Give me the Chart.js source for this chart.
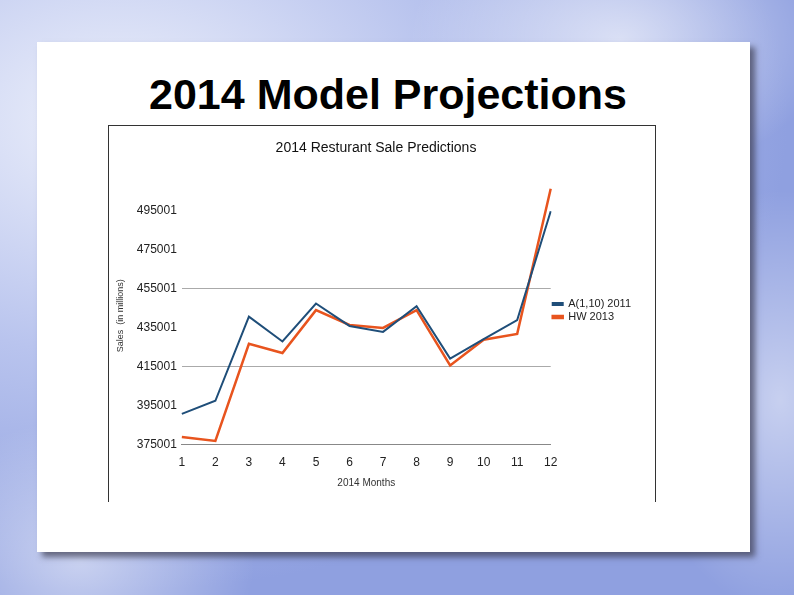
<!DOCTYPE html>
<html><head><meta charset="utf-8">
<script src="https://cdn.jsdelivr.net/npm/chart.js@4"></script>
<style>
html,body{margin:0;padding:0;}
body{width:794px;height:595px;position:relative;overflow:hidden;
background:radial-gradient(ellipse at 15% 20%,#eef1fb 0%,#b9c4ee 35%,#8fa0e0 70%),#9aa8e4;}
#waves{position:absolute;inset:0;background:
radial-gradient(ellipse 300px 200px at 620px 40px,rgba(255,255,255,.6),transparent 70%),
radial-gradient(ellipse 250px 200px at 80px 560px,rgba(255,255,255,.5),transparent 70%),
radial-gradient(ellipse 200px 300px at 780px 400px,rgba(255,255,255,.5),transparent 70%);}
#panel{position:absolute;left:37px;top:42px;width:713px;height:510px;background:#fff;
box-shadow:5px 5px 6px rgba(60,60,80,.7);}
#title{position:absolute;left:0;width:776px;top:70px;text-align:center;
font-family:"Liberation Sans",Arial,sans-serif;font-weight:bold;font-size:43px;color:#000;}
#box{position:absolute;left:108px;top:125px;width:548px;height:377px;background:#fff;border:1px solid #333;border-bottom:none;box-sizing:border-box;}
</style></head><body>
<div id="waves"></div><div id="panel"></div>
<div id="title">2014 Model Projections</div>
<div id="box"><canvas id="c" width="546" height="377"></canvas></div>
<script>
const months=["1","2","3","4","5","6","7","8","9","10","11","12"];
const seriesA=[390700,397450,440500,427800,447250,435750,432700,445900,419050,429000,438800,494500];
const seriesHW=[378900,376850,426650,421900,443850,436250,434750,443850,415500,428700,431700,505970];
const yTicks=[375001,395001,415001,435001,455001,475001,495001];
const F='Liberation Sans';
new Chart(document.getElementById('c'),{type:'line',
data:{labels:months,datasets:[
{label:'A(1,10) 2011',data:seriesA,borderColor:'#1f4e79',borderWidth:2,pointRadius:0,tension:0},
{label:'HW 2013',data:seriesHW,borderColor:'#e8541e',borderWidth:2.5,pointRadius:0,tension:0}]},
options:{responsive:false,animation:false,
layout:{padding:{left:2,right:14,top:2,bottom:10}},
plugins:{title:{display:true,text:'2014 Resturant Sale Predictions',color:'#111',font:{family:F,size:14,weight:'normal'},padding:{top:12,bottom:30}},
legend:{position:'right',labels:{boxWidth:10,boxHeight:2,color:'#222',font:{family:F,size:11},padding:2}},tooltip:{enabled:false}},
scales:{
x:{offset:false,grid:{display:false},border:{color:'#888'},ticks:{color:'#222',font:{family:F,size:12}},
title:{display:true,text:'2014 Months',color:'#333',font:{family:F,size:10}}},
y:{min:375001,max:507000,afterBuildTicks:s=>{s.ticks=yTicks.map(v=>({value:v}));},
grid:{color:c=>(c.tick&&(c.tick.value===415001||c.tick.value===455001||c.tick.value===375001))?'#aaa':'rgba(0,0,0,0)',drawTicks:false},
border:{display:false},
ticks:{color:'#222',padding:5,font:{family:F,size:12},callback:v=>String(v)},
title:{display:true,text:'Sales  (in millions)',color:'#333',font:{family:F,size:9},padding:{top:4,bottom:6}}}}}});
</script></body></html>
